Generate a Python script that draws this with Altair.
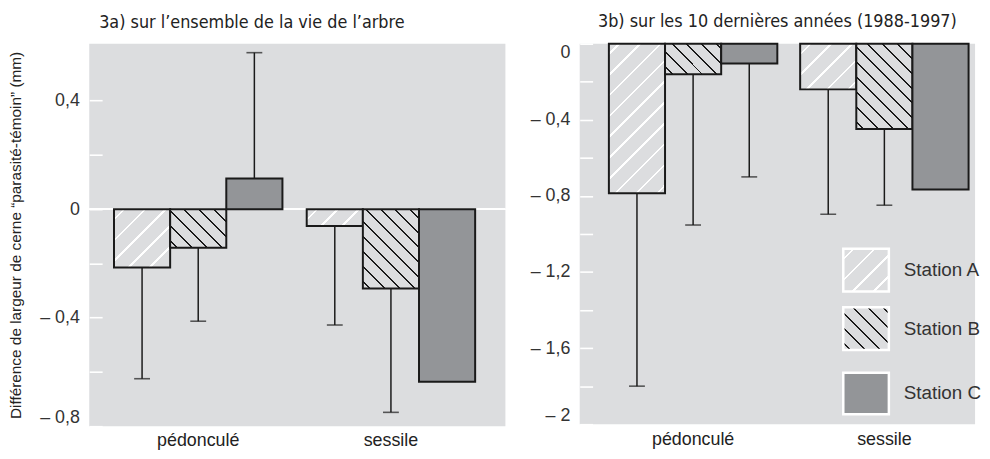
import math
import altair as alt
import pandas as pd

# ---------------- data ----------------
groups = ["pédonculé", "sessile"]
stations = ["Station A", "Station B", "Station C"]

# 3a) whole life of the tree
vals_3a_ped = [-0.215, -0.142, 0.113]
err_3a_ped = [-0.625, -0.413, 0.577]
vals_3a_ses = [-0.062, -0.292, -0.636]
err_3a_ses = [-0.427, -0.749, None]

# 3b) last 10 years (1988-1997)
vals_3b_ped = [-0.786, -0.160, -0.104]
err_3b_ped = [-1.800, -0.953, -0.700]
vals_3b_ses = [-0.240, -0.448, -0.766]
err_3b_ses = [-0.896, -0.849, None]

title_a = "3a) sur l\u2019ensemble de la vie de l\u2019arbre"
title_b = "3b) sur les 10 derni\u00e8res ann\u00e9es (1988-1997)"
y_title = "Diff\u00e9rence de largeur de cerne \u201cparasit\u00e9-t\u00e9moin\u201d (mm)"

ticks_a = [0.4, 0.2, 0.0, -0.2, -0.4, -0.6, -0.8]
ticks_b = [0.0, -0.2, -0.4, -0.6, -0.8, -1.0, -1.2, -1.4, -1.6, -1.8, -2.0]

# ---------------- style ----------------
BG = "#dcdddf"
DARK = "#939598"
INK = "#1a1a1a"
FONT = "Liberation Sans"
NARROW = "Liberation Sans Narrow, DejaVu Sans Condensed, Liberation Sans"


def make_df(vp, ep, vs, es):
    rows = []
    for g, vals, errs in [(groups[0], vp, ep), (groups[1], vs, es)]:
        for s, v, e in zip(stations, vals, errs):
            rows.append({"group": g, "station": s, "value": v, "err": e})
    return pd.DataFrame(rows)


def hatch(w, h, spacing, lw, color, direction):
    L = w + h
    d = w * w + h * h
    gx = w * L / d
    gy = h * L / d
    if direction == "/":
        x1, y1, x2, y2 = 0, 0, gx, gy
    else:
        x1, y1, x2, y2 = 0, 1, gx, 1 - gy
    half = lw * math.sqrt(2) / 2
    stops = [{"color": BG, "offset": 0}]
    p = spacing / 2
    while p - half < L:
        a = max(p - half, 0) / L
        b = min(p + half, L) / L
        stops += [{"color": BG, "offset": a}, {"color": color, "offset": a},
                  {"color": color, "offset": b}, {"color": BG, "offset": b}]
        p += spacing
    stops.append({"color": BG, "offset": 1})
    return {"gradient": "linear", "x1": x1, "y1": y1, "x2": x2, "y2": y2, "stops": stops}


HATCH = {
    "Station A": dict(spacing=21, lw=1.8, color="white", direction="/"),
    "Station B": dict(spacing=15, lw=1.4, color=INK, direction="\\"),
}


def label_expr():
    return ("abs(round(datum.value*10)) % 4 != 0 ? '' : "
            "(datum.value < -0.001 ? '\u2013 ' : '') + "
            "replace(format(abs(datum.value), '.1~f'), '.', ',')")


def panel(df, W, H, ydom, ticks, title, anchor, dx, pi, po, align, ytitle, legend):
    step = W / (2 - pi + 2 * po)
    barw = step * (1 - pi) / 3
    pxu = H / (ydom[1] - ydom[0])

    yaxis = alt.Axis(
        values=ticks, labelExpr=label_expr(), labelFont=FONT, labelFontSize=18,
        labelColor="#333", labelPadding=10, labelFlush=True,
        ticks=False, domain=False, grid=True, gridColor="white", gridWidth=1.6,
        gridDash=[13, 3000], gridOpacity=1,
        title=ytitle if ytitle else None, titleFont=FONT, titleFontSize=15.5,
        titleFontWeight="normal", titleColor="#222", titlePadding=16.5,
    )
    xenc = alt.X("group:N", scale=alt.Scale(domain=groups, paddingInner=pi,
                                            paddingOuter=po, align=align),
                 axis=alt.Axis(title=None, labelAngle=0, ticks=False, domain=False,
                               labelFont=FONT, labelFontSize=18, labelColor="#222",
                               labelPadding=6))
    xoff = alt.XOffset("station:N", scale=alt.Scale(domain=stations, paddingInner=0,
                                                    paddingOuter=0))
    yenc = alt.Y("value:Q", scale=alt.Scale(domain=ydom, nice=False, zero=False), axis=yaxis)
    yerr = alt.Y("err:Q", scale=alt.Scale(domain=ydom, nice=False, zero=False), axis=yaxis)

    base = alt.Chart(df)
    layers = []
    if ydom[1] > 0 and ydom[0] < 0:
        layers.append(base.mark_rule(color="white", strokeWidth=1.6).encode(y=alt.datum(0)))

    # error bars (drawn under the bars)
    eb = base.transform_filter("isValid(datum.err)")
    layers.append(eb.mark_rule(color=INK, strokeWidth=1.5).encode(
        x=xenc, xOffset=xoff, y=yenc, y2=alt.Y2("err:Q")))
    layers.append(eb.mark_tick(orient="horizontal", size=16, thickness=1.6, color=INK).encode(
        x=xenc, xOffset=xoff, y=yerr))

    # hatched bars, one per bar
    for _, r in df.iterrows():
        if r["station"] in HATCH:
            h = abs(r["value"]) * pxu
            grad = hatch(barw, max(h, 1), **HATCH[r["station"]])
            layers.append(
                base.transform_filter(
                    (alt.datum.group == r["group"]) & (alt.datum.station == r["station"]))
                .mark_bar(fill=grad, stroke=INK, strokeWidth=2)
                .encode(x=xenc, xOffset=xoff, y=yenc))
    layers.append(
        base.transform_filter(alt.datum.station == stations[2])
        .mark_bar(fill=DARK, stroke=INK, strokeWidth=2)
        .encode(x=xenc, xOffset=xoff, y=yenc))

    if legend:
        bx0, bx1 = 266, 312
        rows_y = [(207, 250), (266, 309), (332, 374)]
        for s, (y0, y1) in zip(stations, rows_y):
            if s in HATCH:
                fill = hatch(bx1 - bx0, y1 - y0, **HATCH[s])
            else:
                fill = DARK
            sd = pd.DataFrame({"station": [s]})
            layers.append(alt.Chart(sd).mark_rect(fill=fill, stroke="white", strokeWidth=2.5)
                          .encode(x=alt.value(bx0), x2=alt.value(bx1),
                                  y=alt.value(y0), y2=alt.value(y1)))
            layers.append(alt.Chart(sd).mark_text(align="left", baseline="middle",
                                                  font=FONT, fontSize=19, color="#333")
                          .encode(x=alt.value(327), y=alt.value((y0 + y1) / 2),
                                  text="station:N"))

    return alt.layer(*layers).properties(
        width=W, height=H,
        title=alt.TitleParams(title, anchor=anchor, frame="group", dx=dx, font=NARROW,
                              fontSize=18, fontWeight="normal", color="#222", offset=12),
    )


left = panel(make_df(vals_3a_ped, err_3a_ped, vals_3a_ses, err_3a_ses),
             420, 386, [-0.8, 0.61], ticks_a, title_a, "start", 10,
             0.126, 0.1427, 0.45, y_title, False)
right = panel(make_df(vals_3b_ped, err_3b_ped, vals_3b_ses, err_3b_ses),
              399, 384, [-2.0, 0.0], ticks_b, title_b, "middle", 0,
              0.119, 0.093, 0.82, None, True)

chart = (
    alt.hconcat(left, right, spacing=23)
    .properties(padding={"top": 3, "left": 0, "right": 0, "bottom": 0}, background="white")
    .configure_view(stroke=None, fill=BG)
)

chart.save("out.html", embed_options={"renderer": "svg", "actions": False})
